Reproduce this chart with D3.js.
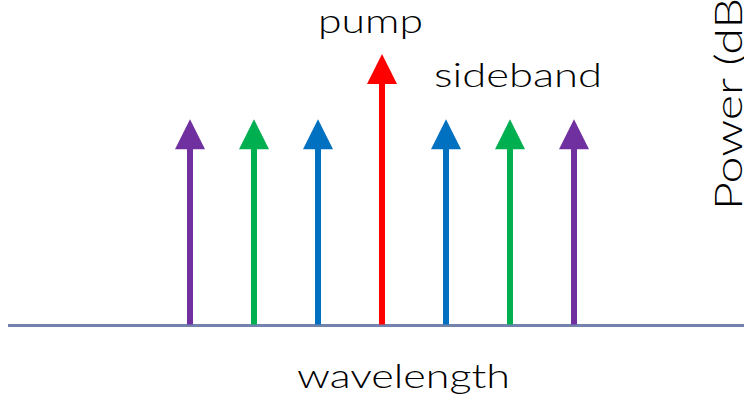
<!DOCTYPE html>
<html>
<head>
<meta charset="utf-8">
<script src="https://cdn.jsdelivr.net/npm/d3@7"></script>
<style>
html,body{margin:0;padding:0;background:#fff;overflow:hidden;}
svg{display:block;}
</style>
</head>
<body>
<script>
// Data
const offsets = [-3, -2, -1, 0, 1, 2, 3];           // wavelength position (relative to pump)
const powers  = [7.6, 7.6, 7.6, 10, 7.6, 7.6, 7.6]; // relative power
const colors  = ["#7030a0", "#00b050", "#0070c0", "#ff0000", "#0070c0", "#00b050", "#7030a0"];
const labels  = ["pump", "sideband"];
const axisLabels = ["wavelength", "Power (dB"];

const W = 744, H = 398;
const svg = d3.select("body").append("svg").attr("width", W).attr("height", H);

const x = d3.scaleLinear().domain([-3, 3]).range([190, 574]);
const y = d3.scaleLinear().domain([0, 10]).range([325.5, 54]);

const font = "'Lato', 'DejaVu Sans', sans-serif";

// baseline (wavelength axis)
svg.append("line")
  .attr("x1", 8).attr("x2", W)
  .attr("y1", y(0)).attr("y2", y(0))
  .attr("stroke", "#7383ad").attr("stroke-width", 3);

const headH = 30, headW = 30, shaft = 6;
const g = svg.append("g");
offsets.forEach((o, i) => {
  const cx = x(o), tip = y(powers[i]);
  g.append("line")
    .attr("x1", cx).attr("x2", cx)
    .attr("y1", y(0) - 1).attr("y2", tip + headH - 1)
    .attr("stroke", colors[i]).attr("stroke-width", shaft);
  g.append("path")
    .attr("d", `M${cx},${tip} L${cx + headW / 2},${tip + headH} L${cx - headW / 2},${tip + headH} Z`)
    .attr("fill", colors[i]);
});

// labels
const txt = (s) => svg.append("text").text(s)
  .attr("font-family", font).attr("font-weight", 300).attr("fill", "#000");

txt(labels[0]).attr("x", 318).attr("y", 33).attr("font-size", 34)
  .attr("textLength", 105).attr("lengthAdjust", "spacingAndGlyphs");

txt(labels[1]).attr("x", 434).attr("y", 87).attr("font-size", 34)
  .attr("textLength", 168).attr("lengthAdjust", "spacingAndGlyphs");

txt(axisLabels[0]).attr("x", 297).attr("y", 388).attr("font-size", 34)
  .attr("textLength", 213).attr("lengthAdjust", "spacingAndGlyphs");

txt(axisLabels[1]).attr("transform", "translate(742,210) rotate(-90)")
  .attr("x", 0).attr("y", 0).attr("font-size", 37)
  .attr("textLength", 212).attr("lengthAdjust", "spacingAndGlyphs");
</script>
</body>
</html>
